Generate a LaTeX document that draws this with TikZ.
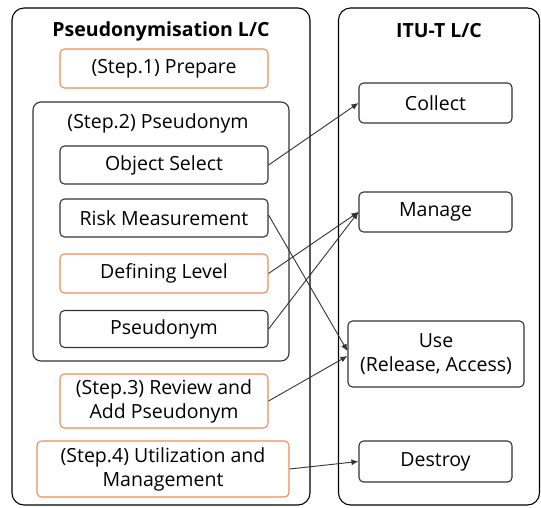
\documentclass[tikz,border=0pt]{standalone}
\usepackage{fontspec}
\setmainfont{Open Sans}
\usetikzlibrary{arrows.meta}
\definecolor{boxgray}{HTML}{333333}
\definecolor{boxorange}{HTML}{F08C55}
\tikzset{
  outerbox/.style={draw=black, line width=1.1pt, rounded corners=12pt, inner sep=0pt},
  innerbox/.style={draw=boxgray, line width=1.1pt, rounded corners=8pt, inner sep=0pt},
  itembox/.style={draw=boxgray, line width=1.1pt, rounded corners=4.5pt, inner sep=0pt, align=center, font=\fontsize{19.5}{24}\selectfont},
  orangebox/.style={itembox, draw=boxorange},
  titletext/.style={font=\fontsize{19.5}{24}\selectfont\bfseries, inner sep=0pt},
  labeltext/.style={font=\fontsize{19.5}{24}\selectfont, inner sep=0pt},
  conn/.style={draw=boxgray, line width=0.9pt, -{Latex[length=7pt,width=6pt]}}
}
\begin{document}
\begin{tikzpicture}[x=1pt,y=-1pt]
\useasboundingbox (0,0) rectangle (541,507);
% outer containers
\node[outerbox, minimum width=298pt, minimum height=497pt] (left) at (161,256.5) {};
\node[outerbox, minimum width=201pt, minimum height=497pt] (right) at (439,256.5) {};
\node[titletext] (tl) at (161,31) {Pseudonymisation L/C};
\node[titletext] (tr) at (439,31) {ITU-T L/C};
% left side
\node[orangebox, minimum width=208pt, minimum height=39pt] (prep) at (164,68.5) {(Step.1) Prepare};
\node[innerbox, minimum width=256pt, minimum height=259pt] (step2) at (161,231.5) {};
\node[labeltext] (s2lab) at (158,123) {(Step.2) Pseudonym};
\node[itembox, minimum width=208pt, minimum height=38pt] (obj) at (164,165) {Object Select};
\node[itembox, minimum width=208pt, minimum height=38pt] (risk) at (164,218) {Risk Measurement};
\node[orangebox, minimum width=208pt, minimum height=39pt] (deflev) at (164,273.5) {Defining Level};
\node[itembox, minimum width=208pt, minimum height=37pt] (pseud) at (164,329) {Pseudonym};
\node[orangebox, minimum width=208pt, minimum height=54pt] (step3) at (164,401) {(Step.3) Review and\\Add Pseudonym};
\node[orangebox, minimum width=252pt, minimum height=56pt] (step4) at (163,469) {(Step.4) Utilization and\\Management};
% right side
\node[itembox, minimum width=153pt, minimum height=40pt] (collect) at (435.5,103) {Collect};
\node[itembox, minimum width=153pt, minimum height=40pt] (manage) at (435.5,212) {Manage};
\node[itembox, minimum width=176pt, minimum height=66pt] (use) at (436,354) {Use\\(Release, Access)};
\node[itembox, minimum width=153pt, minimum height=41pt] (destroy) at (435.5,461.5) {Destroy};
% connectors
\draw[conn] (obj.east) -- (collect.west);
\draw[conn] ([yshift=3pt]risk.east) -- ([yshift=3pt]use.west);
\draw[conn] (deflev.east) -- (manage.west);
\draw[conn] (pseud.east) -- (manage.west);
\draw[conn] (step3.east) -- ([yshift=-2pt]use.west);
\draw[conn] (step4.east) -- (destroy.west);
\end{tikzpicture}
\end{document}
